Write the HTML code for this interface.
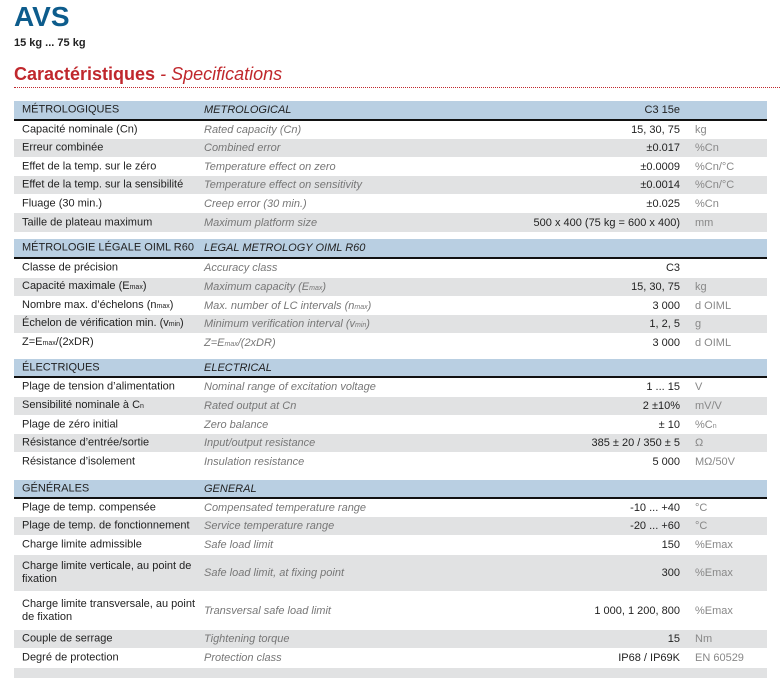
<!DOCTYPE html>
<html><head><meta charset="utf-8"><style>
*{margin:0;padding:0;box-sizing:border-box}
body{width:780px;height:671px;background:#fff;position:relative;overflow:hidden;font-family:"Liberation Sans",sans-serif;color:#222}
.abs{position:absolute}
.r{position:absolute;left:14px;width:753px;font-size:11px}
.g{background:#e1e2e3}
.h{background:#b9cfe2;border-bottom:2px solid #111;font-size:11px;color:#222}
.c1{position:absolute;left:8px;width:186px;top:50%;transform:translateY(-50%);line-height:13px}
.c2{position:absolute;left:190px;top:50%;transform:translateY(-50%);font-style:italic;color:#777;white-space:nowrap}
.h .c2{color:#222}
.v{position:absolute;right:87px;top:50%;transform:translateY(-50%);white-space:nowrap}
.u{position:absolute;left:681px;top:50%;transform:translateY(-50%);color:#888;white-space:nowrap}
sub{font-size:7px;vertical-align:baseline}
</style></head><body>
<div class="abs" style="left:14px;top:1px;font-size:28px;font-weight:bold;color:#0d5c8c">AVS</div>
<div class="abs" style="left:14px;top:37px;font-size:11px;font-weight:bold;color:#222">15 kg ... 75 kg</div>
<div class="abs" style="left:14px;top:64px;font-size:18px;color:#c0282d"><b>Caractéristiques</b> <i style="font-weight:normal">- Specifications</i></div>
<div class="abs" style="left:14px;top:87px;width:766px;border-top:1px dotted #c0282d"></div>

<div class="r h" style="top:101px;height:20px"><div class="c1">MÉTROLOGIQUES</div><div class="c2">METROLOGICAL</div><div class="v">C3 15e</div></div>
<div class="r" style="top:121px;height:18px"><div class="c1">Capacité nominale (Cn)</div><div class="c2">Rated capacity (Cn)</div><div class="v">15, 30, 75</div><div class="u">kg</div></div>
<div class="r g" style="top:139px;height:18px"><div class="c1">Erreur combinée</div><div class="c2">Combined error</div><div class="v">±0.017</div><div class="u">%Cn</div></div>
<div class="r" style="top:158px;height:18px"><div class="c1">Effet de la temp. sur le zéro</div><div class="c2">Temperature effect on zero</div><div class="v">±0.0009</div><div class="u">%Cn/°C</div></div>
<div class="r g" style="top:176px;height:18px"><div class="c1">Effet de la temp. sur la sensibilité</div><div class="c2">Temperature effect on sensitivity</div><div class="v">±0.0014</div><div class="u">%Cn/°C</div></div>
<div class="r" style="top:195px;height:18px"><div class="c1">Fluage (30 min.)</div><div class="c2">Creep error (30 min.)</div><div class="v">±0.025</div><div class="u">%Cn</div></div>
<div class="r g" style="top:213px;height:19px"><div class="c1">Taille de plateau maximum</div><div class="c2">Maximum platform size</div><div class="v">500 x 400 (75 kg = 600 x 400)</div><div class="u">mm</div></div>

<div class="r h" style="top:239px;height:20px"><div class="c1">MÉTROLOGIE LÉGALE OIML R60</div><div class="c2">LEGAL METROLOGY OIML R60</div></div>
<div class="r" style="top:259px;height:18px"><div class="c1">Classe de précision</div><div class="c2">Accuracy class</div><div class="v">C3</div></div>
<div class="r g" style="top:278px;height:18px"><div class="c1">Capacité maximale (E<sub>max</sub>)</div><div class="c2">Maximum capacity (E<sub>max</sub>)</div><div class="v">15, 30, 75</div><div class="u">kg</div></div>
<div class="r" style="top:297px;height:18px"><div class="c1">Nombre max. d’échelons (n<sub>max</sub>)</div><div class="c2">Max. number of LC intervals (n<sub>max</sub>)</div><div class="v">3 000</div><div class="u">d OIML</div></div>
<div class="r g" style="top:315px;height:18px"><div class="c1">Échelon de vérification min. (v<sub>min</sub>)</div><div class="c2">Minimum verification interval (v<sub>min</sub>)</div><div class="v">1, 2, 5</div><div class="u">g</div></div>
<div class="r" style="top:334px;height:18px"><div class="c1">Z=E<sub>max</sub>/(2xDR)</div><div class="c2">Z=E<sub>max</sub>/(2xDR)</div><div class="v">3 000</div><div class="u">d OIML</div></div>

<div class="r h" style="top:359px;height:19px"><div class="c1">ÉLECTRIQUES</div><div class="c2">ELECTRICAL</div></div>
<div class="r" style="top:378px;height:18px"><div class="c1">Plage de tension d’alimentation</div><div class="c2">Nominal range of excitation voltage</div><div class="v">1 ... 15</div><div class="u">V</div></div>
<div class="r g" style="top:397px;height:18px"><div class="c1">Sensibilité nominale à C<sub>n</sub></div><div class="c2">Rated output at Cn</div><div class="v">2 ±10%</div><div class="u">mV/V</div></div>
<div class="r" style="top:416px;height:18px"><div class="c1">Plage de zéro initial</div><div class="c2">Zero balance</div><div class="v">± 10</div><div class="u">%C<sub>n</sub></div></div>
<div class="r g" style="top:434px;height:18px"><div class="c1">Résistance d’entrée/sortie</div><div class="c2">Input/output resistance</div><div class="v">385 ± 20 / 350 ± 5</div><div class="u">Ω</div></div>
<div class="r" style="top:453px;height:18px"><div class="c1">Résistance d’isolement</div><div class="c2">Insulation resistance</div><div class="v">5 000</div><div class="u">MΩ/50V</div></div>

<div class="r h" style="top:480px;height:19px"><div class="c1">GÉNÉRALES</div><div class="c2">GENERAL</div></div>
<div class="r" style="top:499px;height:18px"><div class="c1">Plage de temp. compensée</div><div class="c2">Compensated temperature range</div><div class="v">-10 ... +40</div><div class="u">°C</div></div>
<div class="r g" style="top:517px;height:18px"><div class="c1">Plage de temp. de fonctionnement</div><div class="c2">Service temperature range</div><div class="v">-20 ... +60</div><div class="u">°C</div></div>
<div class="r" style="top:536px;height:18px"><div class="c1">Charge limite admissible</div><div class="c2">Safe load limit</div><div class="v">150</div><div class="u">%Emax</div></div>
<div class="r g" style="top:555px;height:36px"><div class="c1">Charge limite verticale, au point de fixation</div><div class="c2">Safe load limit, at fixing point</div><div class="v">300</div><div class="u">%Emax</div></div>
<div class="r" style="top:592px;height:37px"><div class="c1">Charge limite transversale, au point de fixation</div><div class="c2">Transversal safe load limit</div><div class="v">1 000, 1 200, 800</div><div class="u">%Emax</div></div>
<div class="r g" style="top:630px;height:18px"><div class="c1">Couple de serrage</div><div class="c2">Tightening torque</div><div class="v">15</div><div class="u">Nm</div></div>
<div class="r" style="top:649px;height:18px"><div class="c1">Degré de protection</div><div class="c2">Protection class</div><div class="v">IP68 / IP69K</div><div class="u">EN 60529</div></div>
<div class="r g" style="top:668px;height:10px"></div>
</body></html>
